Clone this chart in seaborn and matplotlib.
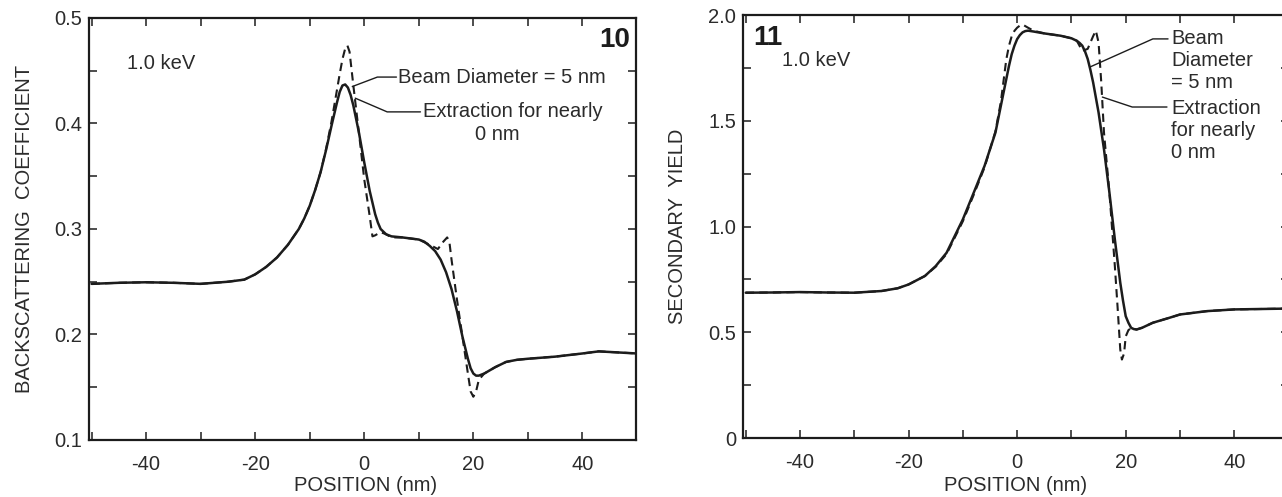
import numpy as np
import pandas as pd
import matplotlib
matplotlib.use("Agg")
import matplotlib.pyplot as plt
from matplotlib.ticker import MultipleLocator
import seaborn as sns

# ---------------- data ----------------
# Panel 10: backscattering coefficient
bs_solid_x = [-50, -45, -40, -35, -30, -25, -22, -20, -18, -16, -14, -12, -11, -10, -9, -8, -7, -6, -5,
              -4.5, -4, -3.5, -3, -2.5, -2, -1, 0, 1, 2, 2.5, 3, 4, 5, 7, 10, 11, 12, 13, 14, 15, 16,
              17, 18, 19, 19.5, 20, 20.5, 21, 22, 24, 26, 28, 30, 35, 40, 43, 50]
bs_solid_y = [0.248, 0.249, 0.2495, 0.249, 0.248, 0.250, 0.252, 0.257, 0.264, 0.273, 0.285, 0.300,
              0.310, 0.322, 0.337, 0.354, 0.375, 0.398, 0.420, 0.430, 0.436, 0.437, 0.434, 0.427,
              0.417, 0.392, 0.363, 0.336, 0.314, 0.306, 0.300, 0.295, 0.293, 0.292, 0.290, 0.288,
              0.284, 0.279, 0.271, 0.259, 0.243, 0.222, 0.198, 0.177, 0.168, 0.163, 0.161, 0.161,
              0.163, 0.169, 0.174, 0.176, 0.177, 0.179, 0.182, 0.184, 0.182]

bs_dash_x = [-50, -45, -40, -35, -30, -25, -22, -20, -18, -16, -14, -12, -11, -10, -9, -8, -7, -6, -5,
             -4.5, -4, -3.5, -3.1, -2.7, -2, -1, 0, 1, 1.5, 2, 3, 4, 5, 7, 10, 12, 13.5, 14.5, 15.2,
             15.6, 16, 17, 18, 19, 19.5, 20, 20.5, 21, 22, 24, 26, 28, 30, 35, 40, 43, 50]
bs_dash_y = [0.248, 0.249, 0.2495, 0.249, 0.248, 0.250, 0.252, 0.257, 0.264, 0.273, 0.285, 0.300,
             0.310, 0.322, 0.337, 0.354, 0.376, 0.402, 0.432, 0.447, 0.461, 0.471, 0.474, 0.468,
             0.436, 0.392, 0.347, 0.312, 0.293, 0.294, 0.297, 0.295, 0.292, 0.292, 0.290, 0.285,
             0.281, 0.288, 0.292, 0.288, 0.271, 0.233, 0.198, 0.163, 0.146, 0.141, 0.146, 0.157,
             0.163, 0.169, 0.174, 0.176, 0.177, 0.179, 0.182, 0.184, 0.182]

# Panel 11: secondary yield
sy_solid_x = [-50, -45, -40, -35, -30, -25, -22, -20, -17, -15, -13, -10, -8, -6, -4, -3, -2, -1.5, -1,
              -0.5, 0, 0.5, 1, 1.5, 2, 3, 5, 8, 10, 11, 11.5, 12, 12.5, 13, 13.5, 14, 15, 16, 17, 18,
              19, 19.5, 20, 20.5, 21, 21.5, 22, 23, 25, 28, 30, 35, 40, 50]
sy_solid_y = [0.687, 0.688, 0.690, 0.688, 0.687, 0.695, 0.708, 0.726, 0.766, 0.813, 0.876, 1.034,
              1.160, 1.287, 1.444, 1.571, 1.697, 1.760, 1.815, 1.855, 1.886, 1.905, 1.918, 1.924,
              1.926, 1.922, 1.913, 1.902, 1.890, 1.878, 1.868, 1.855, 1.828, 1.792, 1.740, 1.681,
              1.539, 1.365, 1.160, 0.939, 0.734, 0.650, 0.576, 0.545, 0.521, 0.515, 0.513, 0.521,
              0.545, 0.568, 0.584, 0.600, 0.608, 0.612]

sy_dash_x = [-50, -45, -40, -35, -30, -25, -22, -20, -17, -15, -13, -10, -8, -6, -4, -3, -2, -1.5, -1,
             -0.5, 0, 0.5, 1, 2, 3, 5, 8, 10, 11, 12, 13, 14, 14.5, 15, 15.5, 16, 17, 18, 18.5, 19,
             19.3, 19.7, 20, 20.5, 21, 22, 23, 25, 28, 30, 35, 40, 50]
sy_dash_y = [0.687, 0.688, 0.690, 0.688, 0.687, 0.695, 0.708, 0.726, 0.766, 0.810, 0.870, 1.025,
             1.150, 1.280, 1.450, 1.590, 1.790, 1.855, 1.900, 1.925, 1.940, 1.950, 1.955, 1.940,
             1.926, 1.913, 1.902, 1.890, 1.878, 1.830, 1.840, 1.900, 1.926, 1.870, 1.680, 1.444,
             1.160, 0.813, 0.620, 0.418, 0.371, 0.400, 0.480, 0.510, 0.520, 0.513, 0.521, 0.545,
             0.568, 0.584, 0.600, 0.608, 0.612]

x_major = [-40, -20, 0, 20, 40]
x_labels = ["-40", "-20", "0", "20", "40"]
bs_yticks = [0.1, 0.2, 0.3, 0.4, 0.5]
bs_ylabels = ["0.1", "0.2", "0.3", "0.4", "0.5"]
sy_yticks = [0.0, 0.5, 1.0, 1.5, 2.0]
sy_ylabels = ["0", "0.5", "1.0", "1.5", "2.0"]

# ---------------- style ----------------
sns.set_theme(style="ticks")
plt.rcParams["font.family"] = ["Liberation Sans", "DejaVu Sans"]
plt.rcParams["axes.unicode_minus"] = False

TXT = "#2b2b2b"
LINE = "#1c1c1c"
FS = 14.5

fig = plt.figure(figsize=(12.82, 4.97), dpi=100)
axL = fig.add_axes([0.0693, 0.1147, 0.4267, 0.8491])
axR = fig.add_axes([0.5796, 0.1187, 0.4255, 0.8511])


def style_axes(ax, yticks, ylabels, yminor):
    for s in ax.spines.values():
        s.set_linewidth(1.6)
        s.set_color(LINE)
    ax.set_xticks(x_major)
    ax.set_xticklabels(x_labels)
    ax.xaxis.set_minor_locator(MultipleLocator(10))
    ax.set_yticks(yticks)
    ax.set_yticklabels(ylabels)
    ax.yaxis.set_minor_locator(MultipleLocator(yminor))
    ax.tick_params(which="both", direction="in", top=True, right=True,
                   length=6, width=1.1, color=LINE, labelsize=FS, labelcolor=TXT)
    ax.tick_params(axis="x", which="major", pad=11)
    ax.tick_params(axis="y", which="major", pad=5)


# ---------------- panel 10 ----------------
df_bs_s = pd.DataFrame({"x": bs_solid_x, "y": bs_solid_y})
df_bs_d = pd.DataFrame({"x": bs_dash_x, "y": bs_dash_y})
sns.lineplot(data=df_bs_s, x="x", y="y", ax=axL, color=LINE, linewidth=1.8, sort=False)
sns.lineplot(data=df_bs_d, x="x", y="y", ax=axL, color=LINE, linewidth=1.5, sort=False,
             linestyle=(0, (4, 2.5)))
axL.set_xlim(-50.5, 49.8)
axL.set_ylim(0.1, 0.5)
style_axes(axL, bs_yticks, bs_ylabels, 0.05)
axL.set_xlabel("POSITION (nm)", fontsize=FS, color=TXT)
axL.set_ylabel("BACKSCATTERING  COEFFICIENT", fontsize=FS, color=TXT)
axL.xaxis.set_label_coords(0.505, -0.085)
axL.yaxis.set_label_coords(-0.100, 0.5)

axL.text(48.7, 0.479, "10", fontsize=20, fontweight="bold", ha="right", va="center", color=LINE)
axL.text(-43.5, 0.457, "1.0 keV", fontsize=FS, ha="left", va="center", color=TXT)
axL.text(6.2, 0.444, "Beam Diameter = 5 nm", fontsize=FS, ha="left", va="center", color=TXT)
axL.plot([5.9, 2.4, -2.2], [0.444, 0.444, 0.435], color=LINE, linewidth=1.0)
axL.text(10.8, 0.411, "Extraction for nearly", fontsize=FS, ha="left", va="center", color=TXT)
axL.text(24.4, 0.390, "0 nm", fontsize=FS, ha="center", va="center", color=TXT)
axL.plot([10.3, 4.2, -1.65], [0.411, 0.411, 0.424], color=LINE, linewidth=1.0)

# ---------------- panel 11 ----------------
df_sy_s = pd.DataFrame({"x": sy_solid_x, "y": sy_solid_y})
df_sy_d = pd.DataFrame({"x": sy_dash_x, "y": sy_dash_y})
sns.lineplot(data=df_sy_s, x="x", y="y", ax=axR, color=LINE, linewidth=1.8, sort=False)
sns.lineplot(data=df_sy_d, x="x", y="y", ax=axR, color=LINE, linewidth=1.5, sort=False,
             linestyle=(0, (4, 2.5)))
axR.set_xlim(-50.5, 50)
axR.set_ylim(0, 2.0)
style_axes(axR, sy_yticks, sy_ylabels, 0.25)
axR.set_xlabel("POSITION (nm)", fontsize=FS, color=TXT)
axR.set_ylabel("SECONDARY  YIELD", fontsize=FS, color=TXT)
axR.xaxis.set_label_coords(0.50, -0.090)
axR.yaxis.set_label_coords(-0.103, 0.5)

axR.text(-48.7, 1.89, "11", fontsize=20, fontweight="bold", ha="left", va="center", color=LINE)
axR.text(-43.3, 1.784, "1.0 keV", fontsize=FS, ha="left", va="center", color=TXT)
for txt, yy in [("Beam", 1.887), ("Diameter", 1.783), ("= 5 nm", 1.683),
                ("Extraction", 1.560), ("for nearly", 1.456), ("0 nm", 1.352)]:
    axR.text(28.4, yy, txt, fontsize=FS, ha="left", va="center", color=TXT)
axR.plot([27.8, 25.0, 13.4], [1.887, 1.887, 1.754], color=LINE, linewidth=1.0)
axR.plot([27.6, 21.2, 15.7], [1.565, 1.565, 1.612], color=LINE, linewidth=1.0)

fig.savefig("out.png", dpi=100)
